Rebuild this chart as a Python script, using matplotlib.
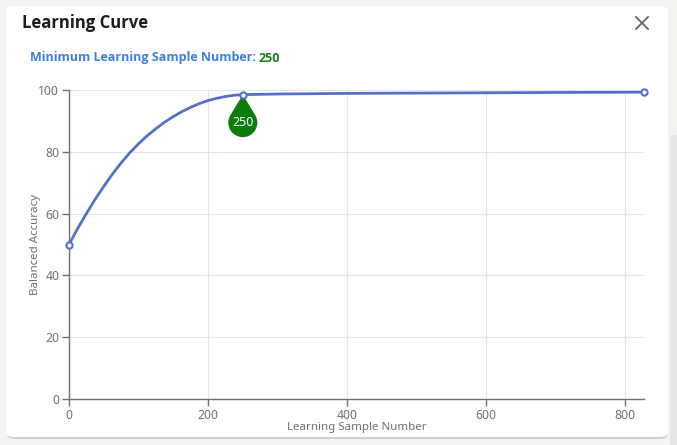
import matplotlib

matplotlib.use("Agg")

import matplotlib.pyplot as plt
import numpy as np
from matplotlib import transforms
from matplotlib.patches import FancyBboxPatch, PathPatch, Rectangle
from matplotlib.path import Path

# data
sample_number = [0, 12.5, 25, 37.5, 50, 62.5, 75, 87.5, 100, 112.5, 125, 137.5, 150, 162.5, 175,
                 187.5, 200, 212.5, 225, 237.5, 250, 300, 400, 500, 600, 700, 827]
balanced_accuracy = [50.0, 55.2, 60.0, 64.6, 68.8, 72.8, 76.4, 79.7, 82.6, 85.2, 87.5, 89.6, 91.4, 93.0, 94.4,
                     95.6, 96.6, 97.3, 97.9, 98.3, 98.5, 98.7, 98.9, 99.0, 99.1, 99.2, 99.3]
min_sample = 250
min_accuracy = 98.5
x_ticks = [0, 200, 400, 600, 800]
y_ticks = [0, 20, 40, 60, 80, 100]

W, H = 677, 445
fig = plt.figure(figsize=(W / 100, H / 100), dpi=100)
fig.patch.set_facecolor("#f4f3f0")


def px(x, y):
    return x / W, 1 - y / H


# card
fig.patches.append(Rectangle(px(670, 445), 7 / W, 310 / H, transform=fig.transFigure,
                             facecolor="#e6e6e6", edgecolor="none", zorder=-2))
fig.patches.append(FancyBboxPatch(px(7, 439), 661 / W, 432 / H, boxstyle="round,pad=0,rounding_size=0.012",
                                  transform=fig.transFigure, facecolor="#cfcfcf", edgecolor="none", zorder=-2))
fig.patches.append(FancyBboxPatch(px(6, 437), 662 / W, 431 / H, boxstyle="round,pad=0,rounding_size=0.012",
                                  transform=fig.transFigure, facecolor="white", edgecolor="none", zorder=-1))

fig.text(*px(22, 23), "Learning Curve", fontsize=12, fontweight="bold", family="Open Sans",
         color="#1c1c1c", va="center", ha="left")
t = fig.text(*px(30, 58), "Minimum Learning Sample Number:", fontsize=9, fontweight="bold",
             family="Open Sans", color="#3d7fe0", va="center", ha="left")
fig.canvas.draw()
bb = t.get_window_extent()
fig.text((bb.x1 + 3) / W, 1 - 58 / H, str(min_sample), fontsize=9, fontweight="bold", family="Open Sans",
         color="#1f7a1f", va="center", ha="left")

# close cross
for dx in (-1, 1):
    fig.add_artist(plt.Line2D([636 / W, 648 / W], [1 - (23 - 6 * dx) / H, 1 - (23 + 6 * dx) / H],
                              color="#666666", linewidth=1.3, transform=fig.transFigure))

ax = fig.add_axes([69 / W, (H - 399) / H, 575 / W, 309 / H])
ax.set_zorder(2)
ax.set_facecolor("none")
ax.set_xlim(0, sample_number[-1])
ax.set_ylim(0, 100)
ax.set_xticks(x_ticks)
ax.set_yticks(y_ticks)
ax.grid(True, color="#e0e6f1", linewidth=0.8)
ax.axvline(sample_number[-1], color="#e0e6f1", linewidth=0.8)
ax.set_axisbelow(True)
for side in ("top", "right"):
    ax.spines[side].set_visible(False)
for side in ("left", "bottom"):
    ax.spines[side].set_color("#6e7079")
    ax.spines[side].set_linewidth(1)
ax.tick_params(colors="#6e7079", labelcolor="#6e7079", length=5, width=1, labelsize=8.8, pad=2)
for lab in ax.get_xticklabels() + ax.get_yticklabels():
    lab.set_family("Noto Sans")
ax.set_xlabel("Learning Sample Number", fontsize=8.3, color="#6e7079", family="Noto Sans", labelpad=0)
ax.set_ylabel("Balanced Accuracy", fontsize=8.3, color="#6e7079", family="Noto Sans", labelpad=-2)

ax.plot(sample_number, balanced_accuracy, color="#5470c6", linewidth=2, zorder=3, clip_on=False,
        solid_joinstyle="round")
ax.plot([sample_number[0], min_sample, sample_number[-1]],
        [balanced_accuracy[0], min_accuracy, balanced_accuracy[-1]],
        linestyle="none", marker="o", markersize=4.5, markerfacecolor="white",
        markeredgecolor="#5470c6", markeredgewidth=1.5, zorder=5, clip_on=False)

# pin marker hanging below the point
r, d = 14.5, 28.0
ang = np.arcsin(r / d)
theta = np.linspace(np.pi - ang, 2 * np.pi + ang, 80)
pts = [(0, 0)] + [(r * np.cos(a), -d + r * np.sin(a)) for a in theta] + [(0, 0)]
pts = [(p[0] / 100, p[1] / 100) for p in pts]
pin = Path(pts)
trans = fig.dpi_scale_trans + transforms.ScaledTranslation(min_sample, min_accuracy, ax.transData)
ax.add_patch(PathPatch(pin, facecolor="#0a7d0a", edgecolor="none", transform=trans, zorder=4, clip_on=False))
ax.text(0, -d / 100, str(min_sample), transform=trans, color="white", fontsize=9, family="Noto Sans",
        ha="center", va="center", zorder=6)

fig.savefig("out.png", dpi=100, facecolor=fig.get_facecolor())
